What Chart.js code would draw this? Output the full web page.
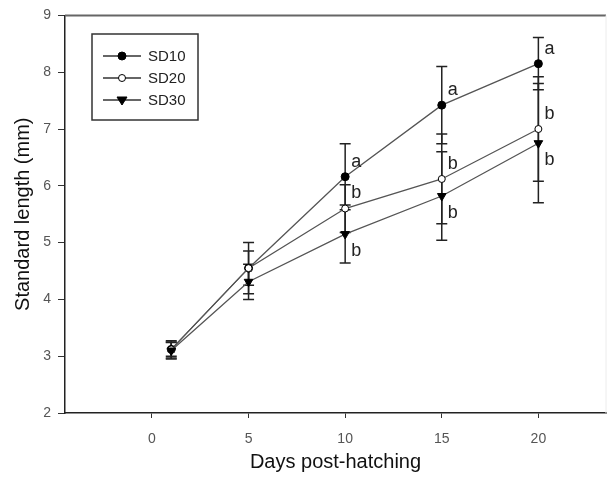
<!DOCTYPE html>
<html>
<head>
<meta charset="utf-8">
<script src="https://cdn.jsdelivr.net/npm/chart.js@4.4.0/dist/chart.umd.min.js"></script>
<style>
  html, body { margin: 0; padding: 0; background: #fff; overflow: hidden; }
</style>
</head>
<body>
<canvas id="myChart" width="612" height="477"></canvas>
<script>
const days = [1, 5, 10, 15, 20];
const sd10 = [3.12, 4.55, 6.16, 7.42, 8.15];
const sd20 = [3.12, 4.55, 5.60, 6.12, 7.00];
const sd30 = [3.10, 4.31, 5.15, 5.82, 6.75];
const sd10Err = [0.15, 0.45, 0.58, 0.68, 0.46];
const sd20Err = [0.12, 0.30, 0.42, 0.79, 0.92];
const sd30Err = [0.15, 0.31, 0.51, 0.78, 1.05];
const sd10Letters = ['', '', 'a', 'a', 'a'];
const sd20Letters = ['', '', 'b', 'b', 'b'];
const sd30Letters = ['', '', 'b', 'b', 'b'];
const xTicks = [0, 5, 10, 15, 20];
const yTicks = [2, 3, 4, 5, 6, 7, 8, 9];

const series = [
  {name: 'SD10', values: sd10, err: sd10Err, letters: sd10Letters, below: false},
  {name: 'SD20', values: sd20, err: sd20Err, letters: sd20Letters, below: false},
  {name: 'SD30', values: sd30, err: sd30Err, letters: sd30Letters, below: true},
];

const pts = vals => days.map((d, i) => ({x: d, y: vals[i]}));

// error bars go under the markers
const errorBars = {
  id: 'errorBars',
  beforeDatasetsDraw(chart) {
    const {ctx, scales: {x, y}} = chart;
    ctx.save();
    ctx.strokeStyle = '#222';
    ctx.lineWidth = 1.5;
    series.forEach(s => {
      days.forEach((d, i) => {
        const px = x.getPixelForValue(d);
        const top = y.getPixelForValue(s.values[i] + s.err[i]);
        const bot = y.getPixelForValue(s.values[i] - s.err[i]);
        ctx.beginPath();
        ctx.moveTo(px, top); ctx.lineTo(px, bot);
        ctx.moveTo(px - 5.5, top); ctx.lineTo(px + 5.5, top);
        ctx.moveTo(px - 5.5, bot); ctx.lineTo(px + 5.5, bot);
        ctx.stroke();
      });
    });
    ctx.restore();
  }
};

const letterMarks = {
  id: 'letterMarks',
  afterDatasetsDraw(chart) {
    const {ctx, scales: {x, y}} = chart;
    ctx.save();
    ctx.fillStyle = '#222';
    ctx.font = '18px "Liberation Sans", Arial, sans-serif';
    ctx.textAlign = 'left';
    ctx.textBaseline = 'middle';
    series.forEach(s => {
      days.forEach((d, i) => {
        if (!s.letters[i]) return;
        const px = x.getPixelForValue(d);
        const py = y.getPixelForValue(s.values[i]);
        ctx.fillText(s.letters[i], px + 6, s.below ? py + 17 : py - 15);
      });
    });
    ctx.restore();
  }
};

const frame = {
  id: 'frame',
  afterDraw(chart) {
    const {ctx, chartArea: a} = chart;
    ctx.save();
    ctx.strokeStyle = '#666';
    ctx.lineWidth = 2;
    ctx.beginPath();
    ctx.moveTo(a.left, a.top); ctx.lineTo(a.right, a.top);
    ctx.stroke();
    ctx.strokeStyle = '#ececec';
    ctx.lineWidth = 1;
    ctx.beginPath();
    ctx.moveTo(a.right, a.top); ctx.lineTo(a.right, a.bottom);
    ctx.stroke();
    ctx.restore();
  }
};

// boxed legend inside the plot, top left
const boxLegend = {
  id: 'boxLegend',
  afterDraw(chart) {
    const {ctx} = chart;
    ctx.save();
    ctx.strokeStyle = '#333';
    ctx.lineWidth = 1.5;
    ctx.strokeRect(92, 34, 106, 86);
    ctx.font = '15px "Liberation Sans", Arial, sans-serif';
    ctx.textBaseline = 'middle';
    chart.data.datasets.forEach((ds, i) => {
      const yy = 56 + i * 22;
      ctx.strokeStyle = '#333';
      ctx.lineWidth = 1.3;
      ctx.beginPath();
      ctx.moveTo(103, yy); ctx.lineTo(141, yy);
      ctx.stroke();
      ctx.fillStyle = ds.pointBackgroundColor;
      ctx.strokeStyle = ds.pointBorderColor;
      ctx.lineWidth = ds.pointBorderWidth;
      ctx.beginPath();
      if (ds.pointStyle === 'triangle') {
        const r = ds.pointRadius;
        ctx.moveTo(122 - r, yy - r * 0.6); ctx.lineTo(122 + r, yy - r * 0.6); ctx.lineTo(122, yy + r);
        ctx.closePath();
      } else {
        ctx.arc(122, yy, ds.pointRadius, 0, Math.PI * 2);
      }
      ctx.fill(); ctx.stroke();
      ctx.fillStyle = '#222';
      ctx.fillText(ds.label, 148, yy + 1);
    });
    ctx.restore();
  }
};

const config = {
  type: 'line',
  data: {
    datasets: [
      {
        label: 'SD10', data: pts(sd10), order: 2,
        borderColor: '#555', borderWidth: 1.3,
        pointStyle: 'circle', pointRadius: 4, pointBorderWidth: 1,
        pointBackgroundColor: '#000', pointBorderColor: '#000',
      },
      {
        label: 'SD20', data: pts(sd20), order: 1,
        borderColor: '#555', borderWidth: 1.3,
        pointStyle: 'circle', pointRadius: 3.5, pointBorderWidth: 1,
        pointBackgroundColor: '#fff', pointBorderColor: '#000',
      },
      {
        label: 'SD30', data: pts(sd30), order: 0,
        borderColor: '#555', borderWidth: 1.3,
        pointStyle: 'triangle', pointRotation: 180, pointRadius: 5, pointBorderWidth: 1,
        pointBackgroundColor: '#000', pointBorderColor: '#000',
      },
    ]
  },
  options: {
    responsive: false,
    animation: false,
    devicePixelRatio: 1,
    layout: {padding: {top: 15, right: 4, left: 0, bottom: 0}},
    plugins: {legend: {display: false}, tooltip: {enabled: false}},
    scales: {
      x: {
        type: 'linear', min: -4.5, max: 23.5,
        afterBuildTicks: s => { s.ticks = xTicks.map(v => ({value: v})); },
        afterFit: s => { s.height = 64; },
        grid: {drawOnChartArea: false, tickLength: 5, color: '#333'},
        border: {color: '#222', width: 1.5},
        ticks: {color: '#555', font: {size: 14, family: '"Liberation Sans", Arial'}, padding: 13, maxRotation: 0, autoSkip: false},
        title: {display: true, text: 'Days post-hatching', color: '#111',
                font: {size: 20, family: '"Liberation Sans", Arial'}, padding: {top: 0, bottom: 3}}
      },
      y: {
        min: 2, max: 9,
        afterBuildTicks: s => { s.ticks = yTicks.map(v => ({value: v})); },
        afterFit: s => { s.width = 65; },
        grid: {drawOnChartArea: false, tickLength: 7, color: '#333'},
        border: {color: '#222', width: 1.5},
        ticks: {color: '#555', font: {size: 14, family: '"Liberation Sans", Arial'}, padding: 7},
        title: {display: true, text: 'Standard length (mm)', color: '#111',
                font: {size: 20, family: '"Liberation Sans", Arial'}, padding: {top: 11, bottom: 0}}
      }
    }
  },
  plugins: [errorBars, letterMarks, frame, boxLegend]
};

const myChart = new Chart(document.getElementById('myChart').getContext('2d'), config);
</script>
</body>
</html>
